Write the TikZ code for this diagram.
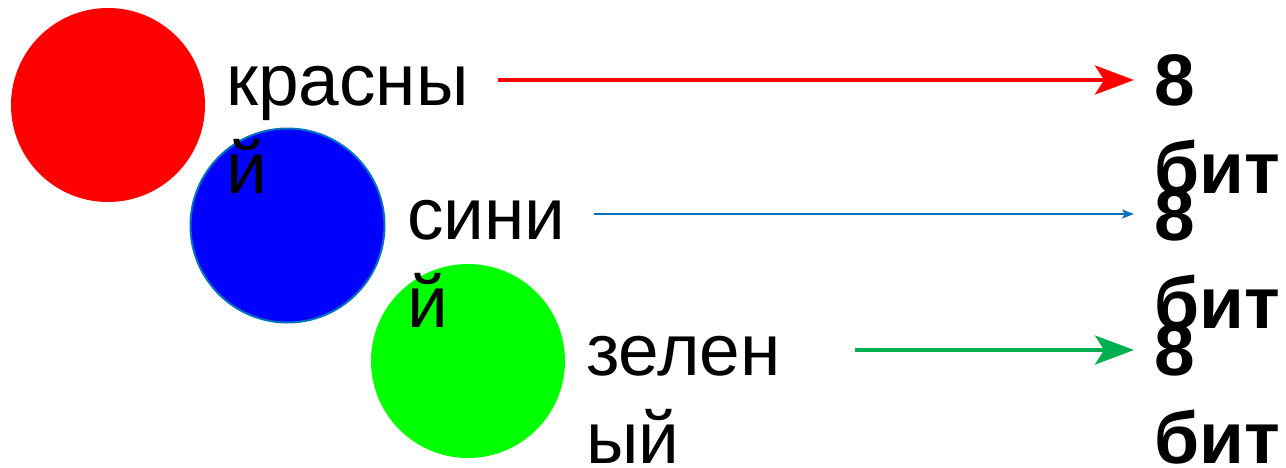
\documentclass[tikz,border=0pt]{standalone}
\usepackage{fontspec}
\setmainfont{Liberation Sans}
\usetikzlibrary{arrows.meta}
\definecolor{arrowgreen}{RGB}{0,176,80}
\definecolor{arrowblue}{RGB}{0,112,192}
\tikzset{
  disc/.style={circle, minimum size=194pt, inner sep=0pt},
  word/.style={anchor=base west, inner sep=0pt, align=left, font=\fontsize{73}{88}\selectfont},
  bits/.style={word, font=\fontsize{73}{88}\selectfont\bfseries},
  fatarrow/.style={line width=4pt, -{Stealth[length=39pt, width=29pt, inset=9pt]}, shorten >=20pt},
  thinarrow/.style={line width=1.5pt, -{Stealth[length=12pt, width=9pt, inset=3pt]}, shorten >=20pt}
}
\begin{document}
\begin{tikzpicture}[x=1pt, y=-1pt]
\useasboundingbox (0,0) rectangle (1286,467);
\node[disc, fill=red] (cr) at (108,105) {};
\node[disc, fill=blue, draw=arrowblue, line width=2pt] (cb) at (287.5,225.5) {};
\node[disc, fill=green] (cg) at (468,361) {};

\node[word] (tr) at (226,193) {красны\\й};
\node[word] (tb) at (407,327) {сини\\й};
\node[word] (tg) at (586,463) {зелен\\ый};

\node[bits] (br) at (1154,193) {8\\бит};
\node[bits] (bb) at (1154,328) {8\\бит};
\node[bits] (bg) at (1154,463) {8\\бит};

\coordinate (sr) at (498,80);
\coordinate (sb) at (594,214);
\coordinate (sg) at (855,350);
\draw[fatarrow, red] (sr) -- (sr -| br.west);
\draw[thinarrow, arrowblue] (sb) -- (sb -| bb.west);
\draw[fatarrow, arrowgreen] (sg) -- (sg -| bg.west);
\end{tikzpicture}
\end{document}
